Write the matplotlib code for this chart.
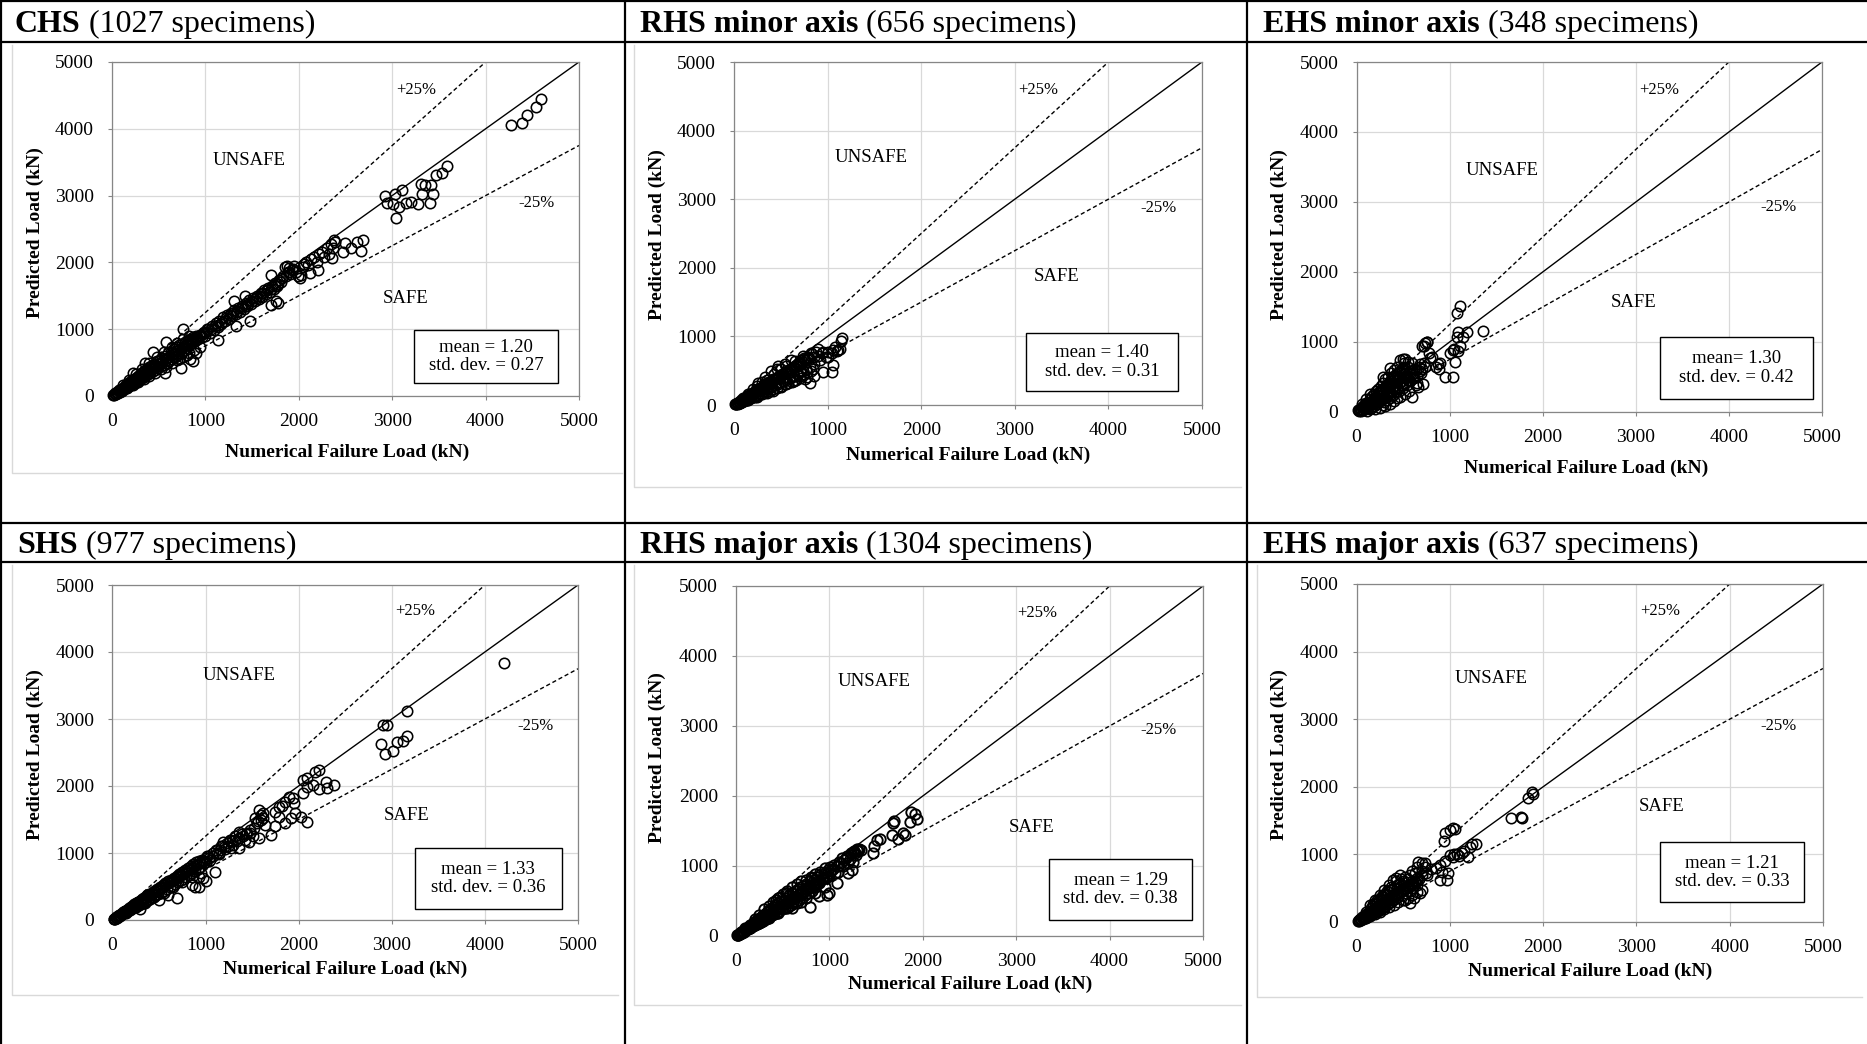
import numpy as np
import matplotlib
matplotlib.use("Agg")
import matplotlib.pyplot as plt
from matplotlib.lines import Line2D

plt.rcParams['font.family'] = ['Liberation Serif', 'DejaVu Serif']

# ---- data (numerical failure load, predicted load) in kN ----
sections = ["CHS", "RHS minor axis", "EHS minor axis", "SHS", "RHS major axis", "EHS major axis"]
specimens = [1027, 656, 348, 977, 1304, 637]
mean_ratio = [1.20, 1.40, 1.30, 1.33, 1.29, 1.21]
mean_sep = [" = ", " = ", "= ", " = ", " = ", " = "]
std_dev = [0.27, 0.31, 0.42, 0.36, 0.38, 0.33]
ticks = [0, 1000, 2000, 3000, 4000, 5000]
ref_ratios = [1.25, 1.0, 0.75]

chs_pts = [
    (15, 20), (25, 15), (35, 40), (45, 30), (55, 60), (65, 45), (75, 85), (85, 65), (95, 100), (105, 80),
    (115, 125), (125, 100), (135, 150), (145, 115), (155, 165), (165, 135), (175, 195), (185, 150), (195, 210), (205, 170),
    (215, 240), (225, 190), (235, 255), (245, 200), (255, 275), (265, 225), (275, 300), (285, 245), (295, 320), (305, 255),
    (315, 345), (325, 275), (335, 360), (345, 290), (355, 385), (365, 310), (375, 400), (385, 330), (395, 430), (405, 345),
    (420, 450), (435, 370), (450, 480), (465, 395), (480, 520), (495, 420), (510, 540), (525, 450), (540, 575), (555, 470),
    (570, 600), (585, 500), (600, 640), (615, 520), (630, 660), (645, 560), (660, 700), (675, 580), (690, 730), (705, 610),
    (720, 760), (735, 650), (750, 780), (765, 680), (780, 810), (795, 720), (810, 840), (825, 760), (840, 860), (855, 790),
    (870, 880), (885, 820), (900, 900), (920, 860), (940, 910), (960, 880), (980, 940), (1000, 900),
    (30, 30), (50, 50), (70, 70), (90, 90), (110, 110), (130, 125), (150, 150), (170, 170), (190, 185), (210, 205),
    (230, 225), (250, 245), (270, 265), (290, 280), (310, 300), (330, 320), (350, 340), (370, 360), (390, 380), (410, 400),
    (430, 415), (450, 435), (470, 455), (490, 475), (510, 495), (530, 515), (550, 535), (570, 555), (590, 570), (610, 590),
    (630, 610), (650, 630), (670, 650), (690, 670), (710, 690), (730, 710), (750, 725), (770, 745), (790, 765), (810, 785),
    (830, 805), (850, 820), (870, 840), (890, 860), (910, 880), (930, 900), (950, 920), (970, 940), (990, 960),
    (100, 70), (160, 120), (220, 165), (280, 210), (340, 260), (400, 300), (460, 350), (520, 400), (580, 440), (640, 490),
    (700, 540), (760, 590), (820, 640), (880, 690), (940, 730),
    (120, 160), (180, 240), (260, 330), (320, 410), (400, 500), (480, 580), (560, 660), (640, 740), (700, 800),
    (760, 860), (820, 900),
    (225, 340), (350, 490), (440, 665), (580, 810), (765, 1010), (735, 425), (565, 340), (865, 525), (720, 560),
    (840, 560), (800, 620), (900, 650),
    (1010, 960), (1030, 1000), (1050, 940), (1070, 1050), (1090, 990), (1110, 1100), (1135, 840), (1130, 1040),
    (1150, 1120), (1170, 1080), (1190, 1180), (1210, 1130), (1230, 1220), (1250, 1160), (1270, 1250), (1290, 1200),
    (1303, 1422), (1310, 1280), (1331, 1048), (1330, 1230), (1350, 1320), (1370, 1260), (1390, 1350), (1410, 1300),
    (1420, 1500), (1430, 1390), (1450, 1340), (1474, 1128), (1470, 1430), (1490, 1380), (1510, 1470), (1530, 1420),
    (1550, 1500), (1570, 1450), (1590, 1540), (1610, 1480), (1630, 1580), (1650, 1520), (1670, 1620), (1690, 1560),
    (1020, 1010), (1060, 1010), (1100, 1050), (1140, 1070), (1180, 1110), (1220, 1170), (1260, 1210), (1300, 1240),
    (1340, 1270), (1380, 1310), (1420, 1350), (1460, 1380), (1500, 1420), (1540, 1470), (1580, 1500), (1620, 1540),
    (1660, 1580), (1700, 1600), (1740, 1640), (1780, 1680), (1820, 1760), (1860, 1800), (1900, 1860), (1940, 1900),
    (1706, 1362), (1706, 1811), (1710, 1650), (1730, 1600), (1750, 1690), (1760, 1420), (1777, 1387), (1770, 1640),
    (1790, 1730), (1810, 1700), (1830, 1800), (1850, 1930), (1870, 1950), (1880, 1860), (1900, 1920), (1910, 1830),
    (1930, 1890), (1950, 1950), (1970, 1860), (1990, 1800), (2010, 1760), (2027, 1812), (2040, 1930), (2060, 1980),
    (2080, 2010), (2100, 1960), (2117, 1837), (2130, 2050), (2160, 2080), (2190, 2000), (2206, 1886), (2220, 2130),
    (2250, 2160), (2270, 2080), (2300, 2210), (2320, 2120), (2340, 2280), (2356, 2061), (2364, 2210), (2377, 2335),
    (2390, 2300), (2471, 2160), (2498, 2285), (2556, 2210), (2620, 2310), (2663, 2175), (2684, 2335),
    (2918, 2989), (2948, 2894), (3012, 2869), (3034, 3019), (3038, 2669), (3068, 2829), (3102, 3079), (3153, 2889),
    (3196, 2904), (3281, 2879), (3304, 3169), (3347, 3159), (3324, 3019), (3400, 2889), (3419, 3159), (3439, 3019),
    (3474, 3308), (3538, 3343), (3589, 3443), (4276, 4060), (4391, 4091), (4440, 4206), (4538, 4320), (4589, 4443),
]

rhs_minor_pts = [
    (15, 15), (25, 10), (35, 30), (45, 20), (55, 45), (65, 30), (75, 60), (85, 40), (95, 75), (105, 55),
    (115, 95), (125, 70), (135, 110), (145, 80), (155, 130), (165, 95), (175, 150), (185, 110), (195, 170), (205, 120),
    (215, 185), (225, 140), (235, 205), (245, 150), (255, 225), (265, 170), (275, 240), (285, 180), (295, 260), (305, 200),
    (315, 280), (325, 210), (335, 300), (345, 230), (355, 320), (365, 240), (375, 335), (385, 260), (395, 350), (405, 270),
    (420, 380), (435, 290), (450, 400), (465, 310), (480, 420), (495, 330), (510, 450), (525, 350), (540, 480), (555, 370),
    (570, 500), (585, 390), (600, 530), (615, 410), (630, 560), (645, 430), (660, 590), (675, 450), (690, 620), (705, 480),
    (720, 650), (735, 500), (750, 680), (770, 530), (790, 700), (810, 560), (830, 740), (850, 600),
    (20, 20), (40, 35), (60, 50), (80, 70), (100, 90), (120, 100), (140, 125), (160, 140), (180, 160), (200, 175),
    (220, 195), (240, 210), (260, 230), (280, 245), (300, 265), (320, 280), (340, 300), (360, 315), (380, 335), (400, 350),
    (420, 365), (440, 385), (460, 400), (480, 415), (500, 430), (520, 450), (540, 465), (560, 480), (580, 500), (600, 515),
    (620, 530), (640, 550), (660, 565), (680, 580), (700, 600), (720, 615), (740, 630), (760, 650), (780, 665), (800, 680),
    (60, 30), (100, 55), (140, 75), (180, 95), (220, 120), (260, 140), (300, 160), (340, 185), (380, 205), (420, 230),
    (460, 250), (500, 280), (540, 300), (580, 320), (620, 340), (660, 370), (700, 420), (740, 450), (780, 480), (820, 500),
    (100, 105), (150, 160), (250, 270), (300, 330), (350, 370), (430, 450), (500, 520), (560, 570), (650, 640),
    (740, 720), (820, 760), (900, 820), (860, 700), (940, 760), (1000, 700), (1050, 760), (1100, 780), (1130, 820),
    (200, 240), (260, 320), (330, 410), (400, 490), (470, 570), (540, 600), (610, 660), (460, 520),
    (250, 110), (350, 170), (420, 210), (500, 260), (560, 300), (640, 350), (700, 400), (755, 380),
    (784, 413), (808, 316), (844, 520), (855, 423), (880, 778), (897, 714), (951, 778), (1004, 778),
    (1058, 802), (1076, 850), (1111, 802), (1147, 938), (1154, 972), (951, 486), (1051, 486), (1058, 583),
    (920, 650), (980, 700),
]

ehs_minor_pts = [
    (20, 25), (30, 10), (40, 50), (50, 20), (60, 70), (70, 35), (80, 100), (90, 40), (100, 130), (100, 60),
    (60, 110), (100, 180), (140, 260),
    (110, 20), (120, 150), (130, 90), (140, 40), (150, 190), (150, 110), (160, 60), (170, 230), (175, 140),
    (185, 80), (190, 260), (195, 170), (200, 40),
    (210, 300), (215, 200), (220, 110), (230, 330), (240, 240), (245, 140), (250, 60), (260, 370), (265, 270),
    (270, 180), (280, 100), (285, 410), (290, 310), (295, 220), (300, 140), (305, 470), (310, 80),
    (320, 350), (325, 260), (330, 170), (340, 500), (345, 400), (350, 300), (355, 200), (360, 120), (370, 560),
    (375, 440), (380, 340), (390, 240), (400, 600), (400, 160),
    (410, 480), (415, 370), (425, 280), (430, 200), (440, 640), (445, 520), (455, 410), (460, 300), (470, 220),
    (480, 560), (490, 450), (500, 340), (510, 700), (515, 600), (520, 260),
    (530, 480), (540, 380), (550, 650), (560, 300), (570, 540), (580, 440), (600, 700), (610, 560), (620, 480),
    (640, 600), (650, 420), (670, 650), (690, 560), (700, 620), (720, 700), (740, 640),
    (25, 30), (45, 40), (65, 55), (85, 70), (105, 95), (125, 110), (145, 130), (165, 150), (185, 190), (205, 220),
    (225, 250), (245, 280), (265, 300), (285, 330), (305, 360), (325, 390), (345, 420), (365, 450), (385, 480),
    (405, 520), (425, 540), (445, 560), (465, 580), (485, 600), (505, 640),
    (125, 60), (165, 90), (205, 120), (245, 160), (285, 190), (325, 220), (365, 250), (405, 280), (445, 330),
    (485, 380), (525, 420), (565, 460), (605, 500), (645, 520), (685, 580),
    (200, 210), (260, 300), (320, 380), (380, 420), (440, 470), (500, 500), (560, 560), (620, 620), (680, 680),
    (500, 420), (430, 350), (360, 290), (290, 250),
    (290, 504), (360, 623), (467, 742), (503, 757), (557, 719), (520, 760), (725, 947), (753, 1004),
    (740, 980), (760, 1000), (700, 940),
    (592, 219), (664, 362), (718, 395), (640, 380),
    (782, 838), (789, 766), (807, 790), (879, 681), (889, 614), (950, 504), (1040, 504), (1040, 885),
    (1058, 709), (1094, 871), (1111, 947), (1076, 1076), (1094, 1147), (1147, 1076), (1183, 1138), (1355, 1157),
    (1083, 1409), (1111, 1519), (900, 700), (850, 650), (1000, 850), (1050, 900),
]

shs_pts = [
    (15, 15), (25, 20), (35, 35), (45, 35), (55, 55), (65, 50), (75, 75), (85, 65), (95, 95), (105, 85),
    (115, 115), (125, 100), (135, 135), (145, 115), (155, 155), (165, 130), (175, 175), (185, 145), (195, 195), (205, 160),
    (215, 215), (225, 180), (235, 235), (245, 195), (255, 255), (265, 210), (275, 275), (285, 225), (295, 290), (305, 240),
    (315, 310), (325, 255), (335, 330), (345, 270), (355, 350), (365, 290), (375, 370), (385, 305), (395, 385), (405, 320),
    (420, 405), (435, 345), (450, 440), (465, 370), (480, 470), (495, 390), (510, 495), (525, 410), (540, 520), (555, 440),
    (570, 550), (585, 460), (600, 580), (615, 490), (630, 600), (645, 510), (660, 630), (675, 540), (690, 660), (705, 560),
    (720, 690), (735, 590), (750, 720), (765, 610), (780, 750), (795, 640), (810, 770), (825, 670), (840, 800), (855, 700),
    (870, 830), (885, 730), (900, 860), (915, 760), (930, 880), (945, 790), (960, 900), (980, 850), (1000, 920),
    (20, 20), (40, 40), (60, 58), (80, 78), (100, 95), (120, 115), (140, 135), (160, 150), (180, 170), (200, 190),
    (220, 210), (240, 225), (260, 245), (280, 265), (300, 280), (320, 300), (340, 315), (360, 335), (380, 355), (400, 370),
    (420, 385), (440, 405), (460, 425), (480, 440), (500, 460), (520, 480), (540, 495), (560, 515), (580, 530), (600, 550),
    (620, 570), (640, 585), (660, 600), (680, 620), (700, 640), (720, 655), (740, 675), (760, 690), (780, 710), (800, 725),
    (820, 745), (840, 760), (860, 780), (880, 800), (900, 815), (920, 835), (940, 850), (960, 870), (980, 885),
    (150, 110), (250, 190), (350, 260), (450, 340), (550, 410), (650, 490), (750, 570), (850, 640), (950, 700),
    (300, 170), (500, 300), (600, 380), (698, 323), (890, 498), (933, 498), (933, 647), (976, 622), (1000, 580), (850, 520),
    (1000, 870), (1040, 920), (1080, 950), (1120, 1000), (1160, 1040), (1200, 1090), (1240, 1100), (1280, 1180),
    (1320, 1190), (1360, 1230), (1400, 1250), (1440, 1280), (1480, 1340), (1520, 1380), (1560, 1480), (1600, 1570),
    (1620, 1600),
    (1020, 950), (1050, 900), (1080, 1000), (1104, 721), (1110, 1050), (1140, 980), (1147, 995), (1170, 1100),
    (1190, 1169), (1210, 1060), (1240, 1150), (1260, 1200), (1275, 1070), (1290, 1120), (1320, 1250), (1340, 1180),
    (1361, 1070), (1361, 1318), (1390, 1280), (1420, 1200), (1447, 1294), (1468, 1169), (1480, 1300), (1510, 1250),
    (1532, 1518), (1550, 1450), (1576, 1642), (1576, 1219), (1600, 1500), (1619, 1518), (1640, 1418), (1705, 1269),
    (1748, 1403), (1748, 1617), (1791, 1692), (1791, 1543), (1816, 1700), (1855, 1766), (1855, 1443), (1898, 1841),
    (1919, 1518), (1940, 1816), (1954, 1741), (1962, 1592), (2026, 1543), (2047, 1900), (2090, 1468), (2047, 2090),
    (2090, 2114), (2090, 1990), (2154, 2015), (2175, 2204), (2218, 2239), (2218, 1950), (2295, 2065), (2304, 1965),
    (2380, 2015),
    (2884, 2627), (2911, 2910), (2945, 2910), (2925, 2478), (3010, 2517), (3053, 2652), (3117, 2667), (3160, 2751),
    (3168, 3119), (4208, 3840),
]

rhs_major_pts = [
    (15, 15), (25, 15), (35, 35), (45, 30), (55, 55), (65, 45), (75, 75), (85, 60), (95, 95), (105, 80),
    (115, 115), (125, 95), (135, 135), (145, 110), (155, 155), (165, 125), (175, 175), (185, 140), (195, 200), (205, 155),
    (215, 220), (225, 170), (235, 240), (245, 185), (255, 260), (265, 200), (275, 280), (285, 215), (295, 300), (305, 230),
    (315, 320), (325, 245), (335, 345), (345, 260), (355, 365), (365, 280), (375, 390), (385, 295), (395, 410), (405, 310),
    (420, 440), (435, 335), (450, 470), (465, 360), (480, 500), (495, 380), (510, 520), (525, 400), (540, 550), (555, 420),
    (570, 580), (585, 450), (600, 610), (615, 470), (630, 640), (645, 500), (660, 670), (675, 520), (690, 700), (705, 550),
    (720, 720), (735, 580), (750, 750), (770, 610), (790, 780), (810, 650), (830, 800), (850, 700), (870, 850), (890, 760),
    (910, 880), (930, 820), (950, 900), (970, 850), (990, 950),
    (20, 20), (40, 38), (60, 55), (80, 72), (100, 90), (120, 108), (140, 125), (160, 142), (180, 160), (200, 178),
    (220, 195), (240, 212), (260, 230), (280, 248), (300, 265), (320, 282), (340, 300), (360, 318), (380, 335), (400, 352),
    (420, 370), (440, 388), (460, 405), (480, 422), (500, 440), (520, 458), (540, 475), (560, 492), (580, 510), (600, 528),
    (620, 545), (640, 562), (660, 580), (680, 598), (700, 615), (720, 632), (740, 650), (760, 668), (780, 685), (800, 702),
    (820, 720), (840, 738), (860, 755), (880, 772), (900, 790), (920, 808), (940, 825), (960, 842), (980, 860),
    (100, 115), (200, 240), (250, 300), (400, 480), (450, 540), (550, 640), (650, 740), (700, 780), (750, 800),
    (800, 850), (850, 880), (900, 920), (950, 970),
    (150, 110), (250, 180), (350, 260), (450, 330), (550, 400), (650, 470), (750, 540), (850, 620), (950, 700),
    (300, 380), (350, 430), (430, 520), (500, 600), (540, 620), (600, 700), (470, 560),
    (793, 419), (893, 571), (971, 586), (1000, 610), (810, 824), (700, 480), (600, 400),
    (1010, 900), (1040, 960), (1060, 900), (1090, 1000), (1120, 1050), (1160, 1080), (1190, 1150), (1220, 1100),
    (1250, 1200), (1280, 1160), (1310, 1220), (1240, 950), (1200, 900),
    (1007, 990), (1020, 940), (1050, 1020), (1078, 752), (1096, 919), (1100, 1060), (1132, 1110), (1150, 1000),
    (1180, 1120), (1200, 1050), (1230, 1180), (1256, 1062), (1260, 1220), (1274, 1190), (1292, 1229), (1300, 1250),
    (1320, 1240), (1340, 1230), (1463, 1181), (1478, 1286), (1506, 1371), (1542, 1381), (1667, 1443), (1685, 1619),
    (1692, 1648), (1738, 1381), (1792, 1467), (1810, 1443), (1863, 1633), (1870, 1776), (1917, 1743), (1942, 1667),
]

ehs_major_pts = [
    (20, 20), (30, 15), (40, 45), (50, 30), (60, 70), (70, 40), (80, 95), (90, 55), (100, 120), (110, 70),
    (120, 140), (130, 85), (140, 170), (150, 100), (160, 200), (170, 115), (180, 230), (190, 130), (200, 260), (210, 145),
    (220, 290), (230, 160), (240, 320), (250, 180), (260, 340), (270, 200), (280, 370), (290, 220), (300, 400), (310, 240),
    (320, 420), (330, 260), (340, 450), (350, 280), (360, 470), (370, 300), (380, 490), (390, 320), (400, 510), (410, 340),
    (430, 540), (450, 370), (470, 570), (490, 400), (510, 600), (530, 430), (550, 640), (570, 460), (590, 560), (610, 500),
    (630, 600), (650, 540),
    (25, 25), (45, 45), (65, 60), (85, 80), (105, 100), (125, 120), (145, 140), (165, 160), (185, 180), (205, 195),
    (225, 215), (245, 235), (265, 255), (285, 275), (305, 290), (325, 310), (345, 330), (365, 345), (385, 365),
    (405, 385), (425, 405), (445, 420), (465, 440), (485, 460), (505, 480), (525, 500), (545, 520), (565, 535),
    (585, 555), (605, 575), (625, 590), (645, 610), (665, 630),
    (100, 65), (150, 90), (200, 120), (250, 150), (300, 190), (350, 220), (400, 250), (450, 290), (500, 320),
    (550, 350), (600, 400), (650, 450), (700, 480),
    (100, 150), (175, 260), (225, 320), (275, 390), (325, 460), (375, 520), (425, 600), (475, 640), (525, 660),
    (575, 700), (625, 720), (700, 760), (730, 820),
    (150, 150), (200, 200), (250, 250), (300, 300), (350, 350), (400, 400), (450, 450), (500, 500), (550, 550),
    (600, 600), (650, 650), (700, 700), (750, 720),
    (150, 250), (200, 330), (250, 400), (300, 470), (350, 540), (420, 650),
    (394, 621), (466, 695), (573, 276), (680, 424), (620, 350), (520, 330), (645, 818), (662, 892), (698, 878),
    (734, 868), (600, 760),
    (895, 621), (913, 744), (966, 621), (984, 720), (938, 1203), (948, 1311), (1002, 1361), (1038, 1385),
    (1055, 1371), (1002, 991), (1030, 960), (1073, 1006), (1127, 1025), (1100, 980), (1150, 1050), (1198, 966),
    (1216, 1104), (1241, 1154), (1280, 1150), (800, 780), (850, 800), (900, 850), (950, 900), (1050, 1000), (760, 700),
    (1652, 1533), (1777, 1543), (1765, 1550), (1834, 1829), (1877, 1928), (1888, 1893),
]

panel_points = [chs_pts, rhs_minor_pts, ehs_minor_pts, shs_pts, rhs_major_pts, ehs_major_pts]

# ---- layout (pixels of the 1867 x 1044 canvas) ----
W, H = 1867, 1044
fig = plt.figure(figsize=(W / 100, H / 100), dpi=100)


def fpt(x, y):
    return x / W, 1 - y / H


# plot area: left, top, right, bottom
axes_px = [(112, 62, 579, 396), (734, 62, 1202, 405), (1356.5, 62, 1822, 412),
           (112.4, 585, 578, 920), (736, 586, 1203, 936), (1356.5, 584, 1823, 922)]
header_px = [(15, 32), (640, 32), (1263, 32), (17, 553), (640, 553), (1263, 553)]
xlabel_px = [(347, 452), (968, 455), (1586, 468), (345, 969), (970, 984), (1590, 971)]
ylabel_px = [(35, 233), (657, 235), (1279, 235), (35, 755), (657, 758), (1279, 755)]
# region labels in axes fractions: +25%, UNSAFE, -25%, SAFE
plus_xy = [(0.652, 0.916), (0.649, 0.918), (0.651, 0.920), (0.651, 0.923), (0.646, 0.922), (0.651, 0.921)]
unsafe_xy = [(0.294, 0.705), (0.293, 0.722), (0.313, 0.691), (0.272, 0.731), (0.296, 0.727), (0.288, 0.721)]
minus_xy = [(0.908, 0.577), (0.907, 0.575), (0.907, 0.585), (0.908, 0.580), (0.904, 0.590), (0.905, 0.581)]
safe_xy = [(0.629, 0.292), (0.689, 0.376), (0.595, 0.312), (0.633, 0.313), (0.634, 0.311), (0.654, 0.341)]
# statistics box: x0, y0, x1, y1 in axes fractions
box_xy = [(0.647, 0.038, 0.956, 0.198), (0.624, 0.041, 0.948, 0.210), (0.652, 0.037, 0.980, 0.215),
          (0.649, 0.033, 0.966, 0.214), (0.670, 0.046, 0.977, 0.219), (0.651, 0.058, 0.960, 0.236)]
marker_edge = [1.15, 1.15, 1.15, 1.15, 1.35, 1.15]
# light grey chart-area frames: left, top, right, bottom
frame_px = [(12, 45, 622, 473), (634, 45, 1241, 487), None,
            (12, 565, 618, 995), (634, 565, 1241, 1005), (1257, 565, 1862, 997)]

axis_grey = '#868686'
for i, pts in enumerate(panel_points):
    l, t, r, b = axes_px[i]
    ax = fig.add_axes([l / W, 1 - b / H, (r - l) / W, (b - t) / H])
    xs = np.array([p[0] for p in pts])
    ys = np.array([p[1] for p in pts])

    lim = [ticks[0], ticks[-1]]
    for k in ref_ratios:
        xe = np.array(lim, dtype=float)
        xe[1] = min(lim[1], lim[1] / k)
        ax.plot(xe, k * xe, color='black', lw=1.0,
                ls='-' if k == 1.0 else (0, (3, 2)), zorder=2)
    ax.plot(xs, ys, 'o', mfc='none', mec='black', ms=7.5, mew=marker_edge[i], ls='none', zorder=3,
            clip_on=False)

    ax.set_xlim(lim)
    ax.set_ylim(lim)
    ax.set_xticks(ticks)
    ax.set_yticks(ticks)
    ax.grid(True, color='#d9d9d9', lw=0.9)
    ax.set_axisbelow(True)
    for s in ax.spines.values():
        s.set_color(axis_grey)
        s.set_linewidth(0.9)
    ax.tick_params(axis='x', labelsize=14, pad=9, length=3, color=axis_grey, width=0.8)
    ax.tick_params(axis='y', labelsize=14, pad=10, length=3, color=axis_grey, width=0.8)

    ax.text(*plus_xy[i], "+25%", transform=ax.transAxes, ha='center', va='center', fontsize=12)
    ax.text(*minus_xy[i], "-25%", transform=ax.transAxes, ha='center', va='center', fontsize=12)
    ax.text(*unsafe_xy[i], "UNSAFE", transform=ax.transAxes, ha='center', va='center', fontsize=13.5)
    ax.text(*safe_xy[i], "SAFE", transform=ax.transAxes, ha='center', va='center', fontsize=13.5)

    x0, y0, x1, y1 = box_xy[i]
    ax.add_patch(plt.Rectangle((x0, y0), x1 - x0, y1 - y0, transform=ax.transAxes,
                               fill=True, fc='white', ec='black', lw=1.0, zorder=4))
    ax.text((x0 + x1) / 2, (y0 + y1) / 2,
            f"mean{mean_sep[i]}{mean_ratio[i]:.2f}\nstd. dev. = {std_dev[i]:.2f}",
            transform=ax.transAxes, ha='center', va='center', fontsize=13.5,
            linespacing=1.1, zorder=5)

    fig.text(*fpt(*xlabel_px[i]), "Numerical Failure Load (kN)", ha='center', va='center',
             fontsize=14, fontweight='bold')
    fig.text(*fpt(*ylabel_px[i]), "Predicted Load (kN)", ha='center', va='center',
             fontsize=14, fontweight='bold', rotation=90)

    if frame_px[i] is not None:
        fl, ft, fr, fb = frame_px[i]
        fig.add_artist(Line2D([fl / W, fl / W, fr / W], [1 - ft / H, 1 - fb / H, 1 - fb / H],
                              transform=fig.transFigure, color='#d9d9d9', lw=1.0))

# ---- table headers ----
renderer = fig.canvas.get_renderer()
for i, name in enumerate(sections):
    hx, hy = header_px[i]
    tb = fig.text(*fpt(hx, hy), name, fontsize=23, fontweight='bold', va='baseline', ha='left')
    bb = tb.get_window_extent(renderer=renderer)
    fig.text(bb.x1 / W, 1 - hy / H, f" ({specimens[i]} specimens)", fontsize=23,
             va='baseline', ha='left')

# ---- table borders ----
lw_tab = 1.6
for y in [1, 42, 523, 562]:
    fig.add_artist(Line2D([0, 1], [1 - y / H] * 2, transform=fig.transFigure, color='black', lw=lw_tab))
for x in [1, 625, 1247]:
    fig.add_artist(Line2D([x / W] * 2, [0, 1], transform=fig.transFigure, color='black', lw=lw_tab))

fig.savefig("out.png", dpi=100, facecolor='white')
